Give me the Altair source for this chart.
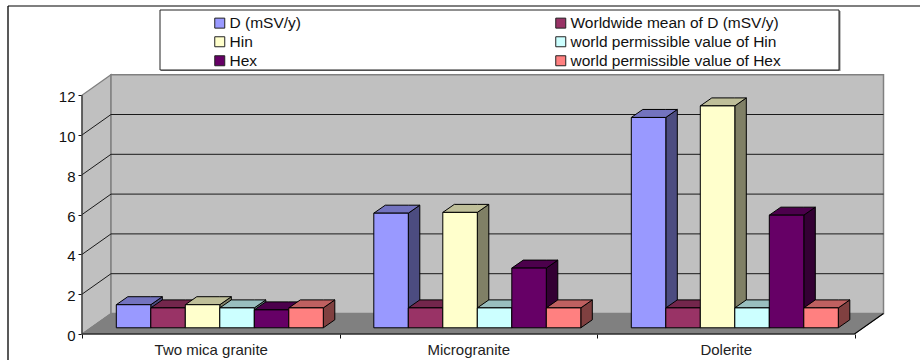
import altair as alt
import pandas as pd

rocks = ["Two mica granite", "Microgranite", "Dolerite"]
series_names = [
    "D (mSV/y)",
    "Worldwide mean of D (mSV/y)",
    "Hin",
    "world permissible value of Hin",
    "Hex",
    "world permissible value of Hex",
]
d_values = [1.16, 5.76, 10.57]
mean_d = [1.0, 1.0, 1.0]
hin_values = [1.16, 5.8, 11.15]
limit_hin = [1.0, 1.0, 1.0]
hex_values = [0.9, 3.0, 5.66]
limit_hex = [1.0, 1.0, 1.0]
series_values = [d_values, mean_d, hin_values, limit_hin, hex_values, limit_hex]
series_colors = ["#9999FF", "#993366", "#FFFFCC", "#CCFFFF", "#660066", "#FF8080"]
# The legend fills column by column, so its order differs from the bar order.
legend_order = [0, 2, 4, 1, 3, 5]
y_ticks = [0, 2, 4, 6, 8, 10, 12]

# Pseudo-3D geometry, in axis units (one x unit is one rock category).
PX_X = 257.5
PX_Y = 19.9
WALL_DX = 29 / PX_X
WALL_DY = 20.5 / PX_Y
BAR_W = 34.5 / PX_X
BAR_START = 34.3 / PX_X
BAR_DX = 11.5 / PX_X
BAR_DY = 8 / PX_Y
BAR_BASE = 6.2 / PX_Y
PLOT_W = 803
PLOT_H = 261
X_SCALE = alt.Scale(domain=[0, PLOT_W / PX_X], nice=False, zero=False)
Y_SCALE = alt.Scale(domain=[0, PLOT_H / PX_Y], nice=False, zero=False)


def shade(color, factor):
    rgb = [int(color[i:i + 2], 16) for i in (1, 3, 5)]
    return "#" + "".join(f"{round(c * factor):02X}" for c in rgb)


front, side, top = [], [], []
for g, rock in enumerate(rocks):
    for s, name in enumerate(series_names):
        v = series_values[s][g]
        x0 = g + BAR_START + s * BAR_W
        x1 = x0 + BAR_W
        b = BAR_BASE
        t = BAR_BASE + v
        bar = f"{g}-{s}"
        front.append({"x": x0, "x1": x1, "y": t, "y2": b, "series": name})
        for px, py, py2 in [(x1, t, b), (x1 + BAR_DX, t + BAR_DY, b + BAR_DY)]:
            side.append({"x": px, "y": py, "y2": py2, "bar": bar,
                         "fill": shade(series_colors[s], 0.5)})
        for px, py, py2 in [
            (x0, t, t),
            (x0 + BAR_DX, t + BAR_DY, t),
            (x1, t + BAR_DY, t),
            (x1 + BAR_DX, t + BAR_DY, t + BAR_DY),
        ]:
            top.append({"x": px, "y": py, "y2": py2, "bar": bar,
                        "fill": shade(series_colors[s], 0.75)})

n = len(rocks)
left_wall = pd.DataFrame([
    {"x": 0, "y": 12, "y2": 0},
    {"x": WALL_DX, "y": 12 + WALL_DY, "y2": WALL_DY},
])
back_wall = pd.DataFrame([
    {"x": WALL_DX, "y": 12 + WALL_DY, "y2": WALL_DY},
    {"x": WALL_DX + n, "y": 12 + WALL_DY, "y2": WALL_DY},
])
floor = pd.DataFrame([
    {"x": 0, "y": 0, "y2": 0},
    {"x": WALL_DX, "y": WALL_DY, "y2": 0},
    {"x": n, "y": WALL_DY, "y2": 0},
    {"x": n + WALL_DX, "y": WALL_DY, "y2": WALL_DY},
])

grid = []
for level in y_ticks[1:-1]:
    grid.append({"x": 0, "y": level, "level": level})
    grid.append({"x": WALL_DX, "y": level + WALL_DY, "level": level})
    grid.append({"x": WALL_DX + n, "y": level + WALL_DY, "level": level})
grid = pd.DataFrame(grid)

# Ticks sit on category boundaries, labels on category centres.
labels = "{'0.5': '%s', '1.5': '%s', '2.5': '%s'}[toString(datum.value)] || ''" % tuple(rocks)
X_AXIS = alt.Axis(
    values=[0, 0.5, 1, 1.5, 2, 2.5, 3], domain=False, grid=False, tickSize=4,
    tickColor="#111111", tickOpacity=alt.expr("datum.value % 1 ? 0 : 1"),
    labelExpr=labels, labelFontSize=15, labelColor="#222222",
    labelFont="Liberation Sans", labelPadding=4, labelAngle=0, title=None,
)
Y_AXIS = alt.Axis(
    values=y_ticks, domain=False, grid=False, tickSize=4, tickColor="#111111",
    labelFontSize=15, labelColor="#111111", labelFont="Liberation Sans",
    labelPadding=3, labelOffset=1.5, title=None,
)
x_enc = alt.X("x:Q", scale=X_SCALE, axis=X_AXIS)
y_enc = alt.Y("y:Q", scale=Y_SCALE, axis=Y_AXIS, stack=None)


def face(data, **mark):
    return alt.Chart(data).mark_area(**mark).encode(x=x_enc, y=y_enc, y2="y2:Q")


walls = (
    face(left_wall, color="#C0C0C0", stroke="#808080", strokeWidth=1.2)
    + face(back_wall, color="#C0C0C0", stroke="#808080", strokeWidth=1.5)
    + face(floor, color="#808080", stroke="#808080", strokeWidth=1)
)

grid_lines = alt.Chart(grid).mark_line(color="#1A1A1A", strokeWidth=1).encode(
    x=x_enc, y=y_enc, detail="level:N"
)

# Front and right-hand edges of the floor.
floor_edge = alt.Chart(pd.DataFrame([
    {"x": 0, "y": 0},
    {"x": n, "y": 0},
    {"x": n + WALL_DX, "y": WALL_DY},
])).mark_line(color="black", strokeWidth=1.2).encode(x=x_enc, y=y_enc)

left_axis = alt.Chart(pd.DataFrame([
    {"x": 0, "y": 0},
    {"x": 0, "y": 12},
])).mark_line(color="#333333", strokeWidth=1.2).encode(x=x_enc, y=y_enc)

bar_sides = alt.Chart(pd.DataFrame(side)).mark_area(stroke="black", strokeWidth=1).encode(
    x=x_enc, y=y_enc, y2="y2:Q", detail="bar:N", color=alt.Color("fill:N", scale=None)
)
bar_tops = alt.Chart(pd.DataFrame(top)).mark_area(stroke="black", strokeWidth=1).encode(
    x=x_enc, y=y_enc, y2="y2:Q", detail="bar:N", color=alt.Color("fill:N", scale=None)
)
bar_fronts = alt.Chart(pd.DataFrame(front)).mark_rect(stroke="black", strokeWidth=1).encode(
    x=x_enc,
    x2="x1:Q",
    y=y_enc,
    y2="y2:Q",
    color=alt.Color(
        "series:N",
        scale=alt.Scale(
            domain=[series_names[i] for i in legend_order],
            range=[series_colors[i] for i in legend_order],
        ),
        legend=alt.Legend(
            title=None, orient="none", legendX=130, legendY=-58, columns=2,
            symbolType="square", symbolSize=100, symbolStrokeColor="#222222",
            symbolStrokeWidth=1, labelFontSize=15.5, labelColor="#111111",
            labelFont="Liberation Sans", labelOffset=2, rowPadding=2,
            columnPadding=252, labelLimit=300, padding=0,
        ),
    ),
)

# Legend box with its drop edge, and the partial outer frame of the figure.
legend_shadow = alt.Chart(pd.DataFrame([{"a": 0}])).mark_rect(color="#808080").encode(
    x=alt.value(79), x2=alt.value(758.5), y=alt.value(-62), y2=alt.value(-2)
)
legend_box = alt.Chart(pd.DataFrame([{"a": 0}])).mark_rect(
    fill="white", stroke="#222222", strokeWidth=1
).encode(x=alt.value(78), x2=alt.value(757), y=alt.value(-63), y2=alt.value(-3))
frame_left = alt.Chart(pd.DataFrame([{"a": 0}])).mark_rule(color="#222222", strokeWidth=1.5).encode(
    x=alt.value(-74), y=alt.value(-67), y2=alt.value(287)
)
frame_top = alt.Chart(pd.DataFrame([{"a": 0}])).mark_rule(color="black", strokeWidth=1.2).encode(
    x=alt.value(-74), x2=alt.value(838), y=alt.value(-67)
)

chart = alt.layer(
    frame_left, frame_top, legend_shadow, legend_box,
    walls, grid_lines, floor_edge, left_axis,
    bar_sides, bar_tops, bar_fronts,
).resolve_scale(color="independent").properties(
    width=PLOT_W,
    height=PLOT_H,
    padding={"left": 82, "top": 73, "right": 35, "bottom": 26},
    autosize=alt.AutoSizeParams(type="none"),
    background="white",
).configure_view(stroke=None)

chart.save("out.html", embed_options={"renderer": "svg", "actions": False})
